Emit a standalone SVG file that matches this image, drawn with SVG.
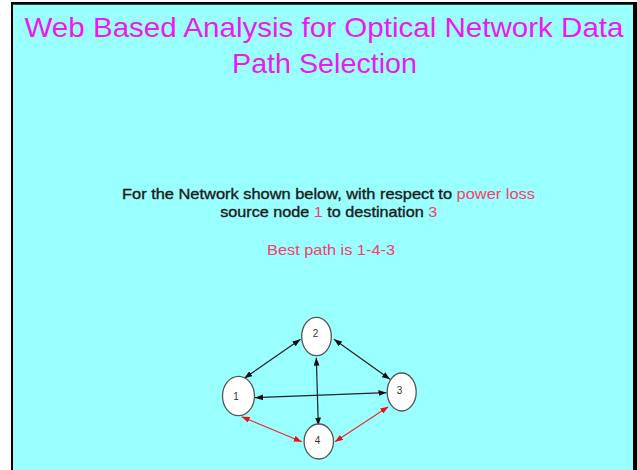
<svg xmlns="http://www.w3.org/2000/svg" width="637" height="470" viewBox="0 0 637 470">
<defs>
<style>
.title{font-family:"Liberation Sans",Arial,sans-serif;font-size:28px;fill:#f018f0;text-anchor:middle}
.body{font-family:"Liberation Sans",Arial,sans-serif;font-size:14.5px;fill:#1a1a1a;stroke:#1a1a1a;stroke-width:0.35;text-anchor:middle}
.hl{fill:#f5406a;stroke:none}
.node ellipse{fill:#fff;stroke:#555;stroke-width:1.3}
.node text{font-family:"Liberation Sans",Arial,sans-serif;font-size:10px;fill:#333;text-anchor:middle}
.edge{stroke:#222;stroke-width:1.2;fill:none;marker-start:url(#ab);marker-end:url(#ab)}
.red{stroke:#e83030;marker-start:url(#ar);marker-end:url(#ar)}
</style>
<marker id="ab" viewBox="0 0 8 6" refX="8" refY="3" markerWidth="8" markerHeight="6" markerUnits="userSpaceOnUse" orient="auto-start-reverse"><path d="M0,0 L8,3 L0,6 z" fill="#111"/></marker>
<marker id="ar" viewBox="0 0 8 6" refX="8" refY="3" markerWidth="8" markerHeight="6" markerUnits="userSpaceOnUse" orient="auto-start-reverse"><path d="M0,0 L8,3 L0,6 z" fill="#e81010"/></marker>
</defs>
<rect x="0" y="0" width="637" height="470" fill="#fff"/>
<rect x="11" y="2" width="626" height="468" fill="#000"/>
<rect x="13" y="4.7" width="620" height="466" fill="#99ffff"/>
<text class="title" x="324" y="37" textLength="599" lengthAdjust="spacingAndGlyphs">Web Based Analysis for Optical Network Data</text>
<text class="title" x="324.5" y="72.5" textLength="185" lengthAdjust="spacingAndGlyphs">Path Selection</text>
<text class="body" x="328.5" y="198.5" textLength="413" lengthAdjust="spacingAndGlyphs">For the Network shown below, with respect to <tspan class="hl">power loss</tspan></text>
<text class="body" x="328.7" y="216.5" textLength="217" lengthAdjust="spacingAndGlyphs">source node <tspan class="hl">1</tspan> to destination <tspan class="hl">3</tspan></text>
<text class="body" x="331" y="254.5" textLength="128" lengthAdjust="spacingAndGlyphs"><tspan class="hl">Best path is 1-4-3</tspan></text>
<g id="connectors">
<line class="edge" x1="244.3" y1="378.3" x2="300.5" y2="339.3"/>
<line class="edge" x1="334" y1="339.3" x2="390" y2="379.3"/>
<line class="edge" x1="255" y1="397.7" x2="386.5" y2="392.7"/>
<line class="edge" x1="316.3" y1="357.7" x2="318.3" y2="425.5"/>
<line class="edge red" x1="241.7" y1="416.7" x2="301.7" y2="441.7"/>
<line class="edge red" x1="335" y1="441.7" x2="388.3" y2="406.7"/>
</g>
<g id="node1" class="node"><ellipse cx="238.5" cy="396" rx="16" ry="19.7"/><text x="236" y="399.5">1</text></g>
<g id="node2" class="node"><ellipse cx="316.5" cy="336.5" rx="14.8" ry="19.2"/><text x="315.5" y="337">2</text></g>
<g id="node3" class="node"><ellipse cx="401.7" cy="392" rx="14.5" ry="19"/><text x="399.5" y="394">3</text></g>
<g id="node4" class="node"><ellipse cx="318.8" cy="441.5" rx="14.7" ry="17.5"/><text x="317.5" y="443.5">4</text></g>
</svg>
